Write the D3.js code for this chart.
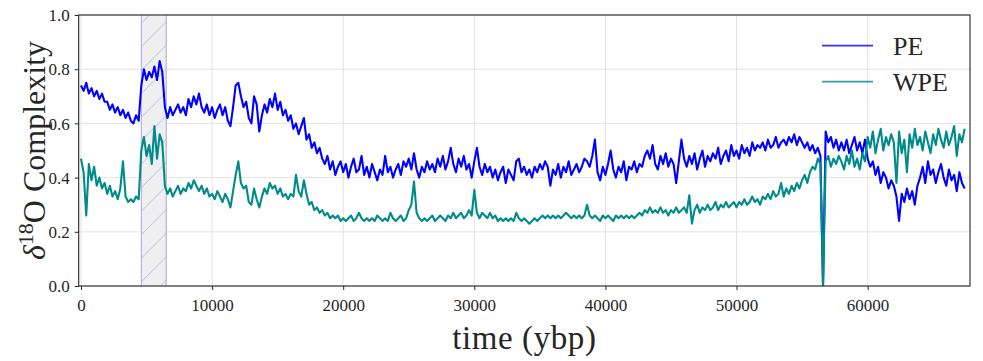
<!DOCTYPE html>
<html>
<head>
<meta charset="utf-8">
<script src="https://cdn.jsdelivr.net/npm/d3@7"></script>
<style>
  html, body { margin: 0; padding: 0; background: #fff; }
  svg { display: block; }
  text { font-family: "Liberation Serif", "Times New Roman", serif; fill: #262626; }
</style>
</head>
<body>
<svg id="chart" width="983" height="361"></svg>
<script>
// ---- data ----
const timeStart = 0;      // ybp of first sample
const timeStep = 200;     // sampling step (years)

const seriesNames = ["PE", "WPE"];

const peValues = [
  0.74,0.72,0.75,0.71,0.73,0.70,0.72,0.69,0.71,0.68,
  0.68,0.65,0.67,0.64,0.66,0.63,0.65,0.62,0.64,0.61,
  0.60,0.63,0.61,0.74,0.80,0.76,0.79,0.77,0.81,0.76,
  0.83,0.79,0.66,0.62,0.66,0.63,0.65,0.67,0.64,0.66,
  0.63,0.69,0.66,0.70,0.67,0.71,0.66,0.64,0.67,0.63,
  0.66,0.62,0.65,0.67,0.63,0.66,0.61,0.59,0.66,0.74,
  0.75,0.70,0.66,0.68,0.62,0.60,0.70,0.67,0.57,0.63,
  0.67,0.64,0.69,0.66,0.71,0.65,0.68,0.63,0.65,0.61,
  0.63,0.58,0.60,0.56,0.59,0.62,0.54,0.56,0.51,0.53,
  0.49,0.51,0.47,0.45,0.48,0.43,0.46,0.41,0.44,0.46,
  0.42,0.45,0.40,0.44,0.47,0.42,0.43,0.48,0.41,0.44,
  0.40,0.45,0.42,0.39,0.43,0.41,0.48,0.42,0.44,0.40,
  0.43,0.45,0.41,0.46,0.44,0.47,0.43,0.49,0.43,0.40,
  0.44,0.42,0.46,0.43,0.45,0.42,0.47,0.44,0.48,0.43,
  0.46,0.51,0.45,0.42,0.47,0.44,0.48,0.43,0.45,0.40,
  0.46,0.51,0.44,0.41,0.45,0.42,0.44,0.40,0.43,0.39,
  0.42,0.44,0.38,0.43,0.41,0.39,0.46,0.47,0.42,0.44,
  0.41,0.43,0.40,0.44,0.42,0.45,0.43,0.46,0.44,0.37,
  0.43,0.41,0.45,0.40,0.44,0.42,0.46,0.41,0.43,0.45,
  0.42,0.44,0.47,0.46,0.44,0.48,0.54,0.42,0.39,0.44,
  0.41,0.45,0.50,0.43,0.40,0.44,0.42,0.46,0.39,0.44,
  0.43,0.46,0.42,0.45,0.44,0.48,0.50,0.47,0.52,0.45,
  0.43,0.48,0.45,0.49,0.44,0.47,0.45,0.38,0.46,0.54,
  0.47,0.44,0.48,0.45,0.49,0.43,0.47,0.50,0.44,0.48,
  0.46,0.49,0.47,0.51,0.45,0.48,0.50,0.46,0.52,0.48,
  0.50,0.47,0.52,0.49,0.51,0.48,0.53,0.50,0.52,0.51,
  0.53,0.50,0.54,0.51,0.52,0.55,0.51,0.53,0.54,0.52,
  0.55,0.53,0.56,0.52,0.55,0.53,0.51,0.53,0.50,0.52,
  0.49,0.51,0.48,0.00,0.57,0.53,0.55,0.51,0.54,0.50,
  0.53,0.50,0.54,0.49,0.52,0.55,0.50,0.53,0.49,0.54,
  0.47,0.44,0.46,0.41,0.44,0.38,0.42,0.40,0.36,0.39,
  0.37,0.33,0.24,0.34,0.31,0.36,0.32,0.35,0.30,0.37,
  0.40,0.44,0.38,0.46,0.41,0.43,0.38,0.42,0.45,0.40,
  0.37,0.43,0.39,0.41,0.35,0.42,0.38,0.36
];

const wpeValues = [
  0.47,0.42,0.26,0.45,0.39,0.44,0.37,0.40,0.36,0.38,
  0.34,0.37,0.33,0.35,0.32,0.36,0.46,0.33,0.31,0.32,
  0.31,0.33,0.32,0.50,0.55,0.48,0.52,0.45,0.59,0.47,
  0.56,0.53,0.37,0.34,0.36,0.33,0.35,0.37,0.34,0.36,
  0.35,0.38,0.36,0.39,0.37,0.35,0.37,0.34,0.36,0.33,
  0.34,0.32,0.35,0.33,0.31,0.34,0.32,0.29,0.35,0.41,
  0.46,0.38,0.36,0.37,0.31,0.30,0.36,0.32,0.29,0.33,
  0.36,0.34,0.38,0.36,0.37,0.34,0.36,0.33,0.34,0.32,
  0.34,0.33,0.41,0.35,0.33,0.39,0.34,0.30,0.31,0.28,
  0.29,0.27,0.28,0.26,0.27,0.25,0.26,0.25,0.26,0.24,
  0.25,0.24,0.25,0.26,0.24,0.25,0.27,0.25,0.24,0.25,
  0.24,0.25,0.24,0.26,0.25,0.24,0.25,0.24,0.27,0.25,
  0.24,0.25,0.26,0.24,0.25,0.28,0.30,0.385,0.27,0.25,
  0.24,0.25,0.24,0.25,0.26,0.24,0.25,0.26,0.25,0.24,
  0.26,0.25,0.27,0.25,0.26,0.27,0.25,0.26,0.28,0.26,
  0.355,0.27,0.25,0.27,0.26,0.25,0.27,0.25,0.26,0.24,
  0.25,0.24,0.25,0.24,0.25,0.24,0.27,0.25,0.24,0.25,
  0.24,0.23,0.24,0.25,0.24,0.25,0.26,0.25,0.26,0.25,
  0.26,0.25,0.26,0.25,0.26,0.27,0.26,0.25,0.26,0.25,
  0.26,0.25,0.26,0.30,0.26,0.25,0.26,0.25,0.24,0.26,
  0.25,0.26,0.25,0.24,0.26,0.25,0.26,0.25,0.26,0.25,
  0.26,0.25,0.26,0.27,0.26,0.28,0.27,0.29,0.27,0.28,
  0.27,0.29,0.27,0.28,0.26,0.28,0.27,0.29,0.27,0.28,
  0.29,0.27,0.335,0.23,0.28,0.30,0.27,0.29,0.28,0.30,
  0.28,0.29,0.31,0.28,0.30,0.29,0.31,0.29,0.30,0.31,
  0.29,0.31,0.30,0.32,0.30,0.31,0.33,0.31,0.32,0.30,
  0.33,0.32,0.34,0.32,0.35,0.33,0.34,0.38,0.33,0.36,
  0.34,0.37,0.35,0.38,0.36,0.39,0.41,0.38,0.42,0.44,
  0.43,0.47,0.45,0.00,0.46,0.48,0.44,0.47,0.45,0.48,
  0.46,0.43,0.48,0.45,0.50,0.44,0.47,0.43,0.49,0.46,
  0.55,0.51,0.57,0.49,0.54,0.58,0.50,0.55,0.52,0.56,
  0.53,0.38,0.57,0.49,0.54,0.42,0.56,0.51,0.58,0.52,
  0.55,0.50,0.57,0.53,0.49,0.56,0.52,0.58,0.54,0.51,
  0.57,0.52,0.55,0.59,0.48,0.56,0.53,0.58
];

const shadedSpan = [4600, 6500];   // hatched interval (ybp)

const xTicks = [0, 10000, 20000, 30000, 40000, 50000, 60000];
const yTicks = [0.0, 0.2, 0.4, 0.6, 0.8, 1.0];
const xDomain = [-175, 67810];
const yDomain = [0, 1];

const colors = { PE: "#0000ff", WPE: "#008b8b" };

// ---- layout ----
const svg = d3.select("#chart");
const plot = { left: 78.7, top: 15, right: 970, bottom: 286 };

const x = d3.scaleLinear().domain(xDomain).range([plot.left, plot.right]);
const y = d3.scaleLinear().domain(yDomain).range([plot.bottom, plot.top]);

const toPoints = vals => vals.map((v, i) => ({ t: timeStart + i * timeStep, v }));
const series = [
  { name: "PE", pts: toPoints(peValues) },
  { name: "WPE", pts: toPoints(wpeValues) }
];

const defs = svg.append("defs");
defs.append("clipPath").attr("id", "clip")
  .append("rect")
  .attr("x", plot.left).attr("y", plot.top)
  .attr("width", plot.right - plot.left).attr("height", plot.bottom - plot.top);

const pat = defs.append("pattern")
  .attr("id", "hatch")
  .attr("patternUnits", "userSpaceOnUse")
  .attr("width", 23.5).attr("height", 23.5);
pat.append("rect").attr("width", 23.5).attr("height", 23.5).attr("fill", "#efefef");
pat.append("path")
  .attr("d", "M-2,25.5 L25.5,-2 M-6,6 L6,-6 M17.5,29.5 L29.5,17.5")
  .attr("stroke", "#b4b4e2").attr("stroke-width", 0.9).attr("fill", "none");

// grid
const grid = svg.append("g");
grid.selectAll(".gx").data(xTicks).join("line")
  .attr("x1", d => x(d)).attr("x2", d => x(d))
  .attr("y1", plot.top).attr("y2", plot.bottom)
  .attr("stroke", "#e3e3e3").attr("stroke-width", 1);
grid.selectAll(".gy").data(yTicks).join("line")
  .attr("x1", plot.left).attr("x2", plot.right)
  .attr("y1", d => y(d)).attr("y2", d => y(d))
  .attr("stroke", "#e3e3e3").attr("stroke-width", 1);

// hatched span
svg.append("rect")
  .attr("x", x(shadedSpan[0])).attr("y", plot.top)
  .attr("width", x(shadedSpan[1]) - x(shadedSpan[0]))
  .attr("height", plot.bottom - plot.top)
  .attr("fill", "url(#hatch)");
svg.selectAll(".spanEdge").data(shadedSpan).join("line")
  .attr("x1", d => x(d)).attr("x2", d => x(d))
  .attr("y1", plot.top).attr("y2", plot.bottom)
  .attr("stroke", "#a8a8dc").attr("stroke-width", 1);

// lines
const line = d3.line().x(d => x(d.t)).y(d => y(d.v));
svg.append("g").attr("clip-path", "url(#clip)")
  .selectAll("path").data(series).join("path")
  .attr("d", d => line(d.pts))
  .attr("fill", "none")
  .attr("stroke", d => colors[d.name])
  .attr("stroke-width", 2.1)
  .attr("stroke-linejoin", "round");

// spines
svg.append("rect")
  .attr("x", plot.left).attr("y", plot.top)
  .attr("width", plot.right - plot.left).attr("height", plot.bottom - plot.top)
  .attr("fill", "none").attr("stroke", "#262626").attr("stroke-width", 1.1);

// axes
const xAxis = d3.axisBottom(x).tickValues(xTicks).tickSize(4).tickPadding(6)
  .tickFormat(d3.format("d"));
const gx = svg.append("g").attr("transform", `translate(0,${plot.bottom})`).call(xAxis);
gx.select(".domain").remove();
gx.selectAll(".tick line").attr("stroke", "#262626");
gx.selectAll(".tick text").attr("font-size", 17).attr("font-family", "Liberation Serif")
  .attr("fill", "#333").attr("dy", "0.9em");

const yAxis = d3.axisLeft(y).tickValues(yTicks).tickSize(4).tickPadding(5)
  .tickFormat(d3.format(".1f"));
const gy = svg.append("g").attr("transform", `translate(${plot.left},0)`).call(yAxis);
gy.select(".domain").remove();
gy.selectAll(".tick line").attr("stroke", "#262626");
gy.selectAll(".tick text").attr("font-size", 17).attr("font-family", "Liberation Serif")
  .attr("fill", "#333").attr("dy", "0.34em");

// axis labels
svg.append("text")
  .attr("x", (plot.left + plot.right) / 2).attr("y", 349)
  .attr("text-anchor", "middle").attr("font-size", 33)
  .attr("letter-spacing", 0.6)
  .attr("fill", "#262626")
  .text("time (ybp)");

const yl = svg.append("text")
  .attr("transform", `translate(45,${(plot.top + plot.bottom) / 2}) rotate(-90)`)
  .attr("text-anchor", "middle").attr("font-size", 32).attr("fill", "#262626");
yl.append("tspan").attr("font-style", "italic").text("δ");
yl.append("tspan").attr("font-size", 22).attr("dy", -12).text("18");
yl.append("tspan").attr("dy", 12).text("O Complexity");

// legend
const leg = svg.append("g");
seriesNames.forEach((name, i) => {
  const ly = 45.7 + i * 36;
  leg.append("line")
    .attr("x1", 822).attr("x2", 873).attr("y1", ly).attr("y2", ly)
    .attr("stroke", colors[name]).attr("stroke-width", 1.8).attr("opacity", 0.8);
  leg.append("text")
    .attr("x", 893).attr("y", ly + 9)
    .attr("font-size", 26).attr("fill", "#262626")
    .text(name);
});
</script>
</body>
</html>
